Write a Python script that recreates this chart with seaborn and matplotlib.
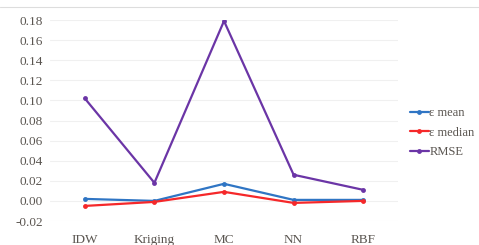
import numpy as np
import pandas as pd
import matplotlib
matplotlib.use("Agg")
import matplotlib.pyplot as plt
import seaborn as sns

methods = ["IDW", "Kriging", "MC", "NN", "RBF"]
eps_mean = [0.002, 0.000, 0.017, 0.001, 0.001]
eps_median = [-0.005, -0.001, 0.009, -0.002, 0.000]
rmse = [0.102, 0.018, 0.179, 0.026, 0.011]
series_names = ["\u03b5 mean", "\u03b5 median", "RMSE"]
y_ticks = [-0.02, 0.00, 0.02, 0.04, 0.06, 0.08, 0.10, 0.12, 0.14, 0.16, 0.18]

df = pd.DataFrame({
    "method": methods * 3,
    "value": eps_mean + eps_median + rmse,
    "series": [series_names[0]] * 5 + [series_names[1]] * 5 + [series_names[2]] * 5,
})

sns.set_style("white")
plt.rcParams["font.family"] = ["Liberation Serif", "DejaVu Serif"]

fig = plt.figure(figsize=(4.79, 2.45), dpi=100)
ax = fig.add_axes([50 / 479, 24 / 245, 348 / 479, 201 / 245])

palette = {series_names[0]: "#2f75c4", series_names[1]: "#f5282a", series_names[2]: "#6b35a6"}
sns.lineplot(data=df, x="method", y="value", hue="series", palette=palette,
             marker="o", markersize=3.5, markeredgewidth=0, linewidth=1.6,
             sort=False, ax=ax)

ax.set_xlim(-0.5, 4.5)
ax.set_ylim(-0.02, 0.18)
ax.set_yticks(y_ticks)
ax.set_yticklabels([f"{t:.2f}" for t in y_ticks])
ax.yaxis.grid(True, color="#f0f0f0", linewidth=0.8)
ax.set_axisbelow(True)
for s in ax.spines.values():
    s.set_visible(False)
ax.tick_params(axis="both", length=0, labelsize=9.5, colors="#5a5550", pad=5)
ax.tick_params(axis="x", pad=9)
ax.set_xlabel("")
ax.set_ylabel("")

leg = ax.legend(loc="center left", bbox_to_anchor=(1.02, 0.44), frameon=False,
                fontsize=9, handlelength=1.5, handletextpad=0.05, labelspacing=0.6,
                borderaxespad=0)
for t in leg.get_texts():
    t.set_color("#5a5550")

fig.add_artist(plt.Line2D([0, 1], [1 - 7 / 245, 1 - 7 / 245], color="#dddddd", linewidth=0.8))

fig.savefig("out.png", dpi=100)
